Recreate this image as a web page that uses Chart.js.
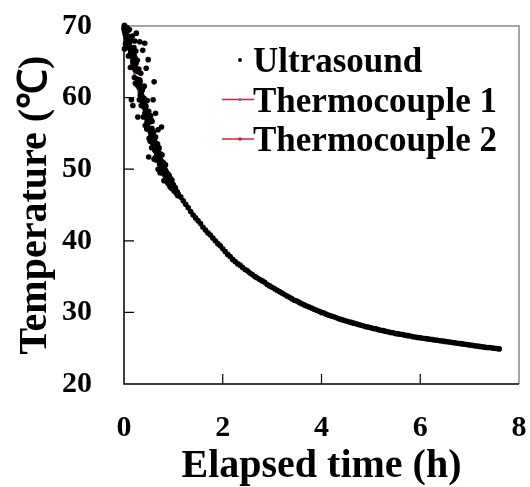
<!DOCTYPE html>
<html>
<head>
<meta charset="utf-8">
<title>Temperature vs elapsed time</title>
<script src="https://cdn.jsdelivr.net/npm/chart.js@4.4.1/dist/chart.umd.min.js"></script>
<style>
  html, body { margin: 0; padding: 0; background: #fff; }
  #wrap { width: 530px; height: 487px; }
</style>
</head>
<body>
<div id="wrap"><canvas id="tempChart" width="530" height="487"></canvas></div>
<script>
// values
const seriesNames = ["Ultrasound", "Thermocouple 1", "Thermocouple 2"];
const xTicks = [0, 2, 4, 6, 8];
const yTicks = [20, 30, 40, 50, 60, 70];

// ultrasound: noisy early part (t in h, T in degC)
const usEarly = [
  [0.00,69.6],[0.01,70.1],[0.02,69.2],[0.03,68.9],[0.04,69.6],[0.05,68.4],[0.06,69.8],[0.07,67.9],[0.08,69.4],[0.09,65.8],
  [0.10,68.3],[0.11,69.5],[0.12,65.9],[0.13,64.2],[0.14,68.1],[0.15,66.4],[0.16,64.3],[0.17,68.6],[0.18,65.0],[0.19,66.8],
  [0.20,67.0],[0.21,62.8],[0.22,65.6],[0.23,62.0],[0.24,66.5],[0.25,63.9],[0.26,61.8],[0.27,65.2],[0.28,62.1],[0.29,63.7],
  [0.30,64.0],[0.31,59.7],[0.32,62.4],[0.33,60.3],[0.34,63.4],[0.35,58.9],[0.36,61.0],[0.37,59.5],[0.38,61.3],[0.39,57.3],
  [0.40,59.8],[0.41,61.6],[0.42,57.4],[0.43,56.1],[0.44,59.5],[0.45,57.6],[0.46,55.6],[0.47,59.6],[0.48,56.3],[0.49,58.0],
  [0.50,58.1],[0.51,54.3],[0.52,56.6],[0.53,53.9],[0.54,57.5],[0.55,55.0],[0.56,53.0],[0.57,56.7],[0.58,53.7],[0.59,55.1],
  [0.60,55.2],[0.61,51.4],[0.62,53.9],[0.63,51.6],[0.64,54.5],[0.65,51.3],[0.66,53.5],[0.67,52.1],[0.68,53.5],[0.69,50.0],
  [0.70,52.8],[0.71,53.0],[0.72,50.7],[0.73,49.5],[0.74,52.1],[0.75,50.9],[0.76,49.5],[0.77,52.0],[0.78,49.9],[0.79,50.8],
  [0.80,50.9],[0.81,48.4],[0.82,50.1],[0.83,48.5],[0.84,50.6],[0.85,48.6],[0.86,49.5],[0.87,49.0],[0.88,49.4],[0.89,48.0],
  [0.90,49.0],[0.91,49.2],[0.92,48.0],[0.93,47.6],[0.94,48.7],[0.95,48.1],[0.96,47.3],[0.97,48.5],[0.98,47.5],[0.99,47.9],
  [1.00,47.8],[1.01,47.0],[1.02,47.5],[1.03,46.9],[1.04,47.4],[1.05,46.8],[1.06,46.9],[1.07,46.6],[1.08,46.8],[1.09,46.3],
  [1.10,46.5],
  [0.005,69.9],[0.025,68.8],[0.045,69.3],[0.065,67.5],[0.085,68.6],[0.105,66.9],[0.125,67.8],[0.145,65.8],[0.165,66.9],[0.185,64.9],
  [0.205,65.9],[0.225,63.9],[0.245,64.8],[0.265,62.6],[0.285,63.6],[0.305,61.4],[0.325,62.2],[0.345,59.9],[0.365,61.0],[0.385,58.8],
  [0.405,59.9],[0.425,57.8],[0.445,58.8],[0.465,56.5],[0.485,57.7],[0.505,55.6],[0.525,56.8],[0.545,54.6],[0.565,55.7],[0.585,53.6],
  [0.605,54.6],[0.625,52.6],[0.645,53.6],[0.665,52.0],[0.685,52.7],[0.705,51.2],[0.725,52.0],[0.745,50.6],[0.765,51.1],[0.785,49.8],
  [0.805,50.5],[0.825,49.2],[0.845,49.8],[0.865,48.8],[0.885,49.3],[0.905,48.3],[0.925,48.8],[0.945,47.8],[0.965,48.2],[0.985,47.4],
  [0.015,69.4],[0.045,68.7],[0.075,68.3],[0.105,67.3],[0.135,66.9],[0.165,65.8],[0.195,65.5],[0.225,64.3],[0.255,63.9],[0.285,62.5],
  [0.315,61.9],[0.345,60.4],[0.375,59.9],[0.405,58.8],[0.435,58.4],[0.465,57.0],[0.495,56.8],[0.525,55.6],[0.555,55.1],[0.585,54.0],
  [0.615,53.6],[0.645,52.6],[0.675,52.4],[0.705,51.6],[0.735,51.4],[0.765,50.4],[0.795,50.2],[0.825,49.5],[0.855,49.4],[0.885,48.7],
  [0.915,48.6],[0.945,48.0],[0.975,47.9],[1.005,47.3],[1.035,47.2],[1.065,46.6],[1.095,46.5],
  [0.010,69.3],[0.035,69.6],[0.060,68.2],[0.085,68.3],[0.110,68.0],[0.135,66.3],[0.160,66.4],[0.185,65.3],[0.210,65.6],[0.235,64.0],
  [0.260,63.8],[0.285,62.4],[0.310,62.5],[0.335,60.6],[0.360,60.3],[0.385,59.2],[0.410,59.6],[0.435,57.8],[0.460,57.6],[0.485,56.5],
  [0.510,56.9],[0.535,55.2],[0.560,55.0],[0.585,53.9],[0.610,54.2],[0.635,52.8],[0.660,52.8],[0.685,51.8],[0.710,52.3],[0.735,50.9],
  [0.760,50.9],[0.785,49.9],[0.810,50.4],[0.835,49.2],[0.860,49.4],[0.885,48.6],[0.910,49.0],[0.935,48.0],[0.960,48.1],[0.985,47.5]
];

// scattered outliers of the ultrasound cloud
const usOutliers = [
  [0.25,69.0],[0.32,67.8],[0.42,67.6],[0.38,66.6],[0.49,65.3],[0.45,64.1],[0.61,62.2],[0.15,59.7],
  [0.18,58.9],[0.28,57.3],[0.59,59.7],[0.76,55.9],[0.69,55.5],[0.50,51.7],[0.35,61.5],[0.01,66.8],
  [0.03,67.5],[0.55,56.9],[0.64,57.8],[0.22,67.9]
];

// ultrasound: tight later part
const usLate = [
  [1.15,46.1],[1.20,45.6],[1.25,45.1],[1.30,44.6],[1.35,44.1],[1.40,43.6],[1.45,43.2],[1.50,42.8],[1.55,42.4],[1.60,41.9],
  [1.65,41.5],[1.70,41.1],[1.75,40.8],[1.80,40.4],[1.85,40.0],[1.90,39.6],[1.95,39.3],[2.00,38.9],[2.05,38.5],[2.10,38.1],
  [2.15,37.8],[2.20,37.4],[2.25,37.1],[2.30,36.8],[2.35,36.6],[2.40,36.3],[2.45,36.0],[2.50,35.8],[2.55,35.5],[2.60,35.3],
  [2.65,35.0],[2.70,34.8],[2.75,34.6],[2.80,34.4],[2.85,34.2],[2.90,33.9],[2.95,33.7],[3.00,33.5],[3.05,33.3],[3.10,33.1],
  [3.15,32.9],[3.20,32.7],[3.25,32.5],[3.30,32.3],[3.35,32.1],[3.40,31.9],[3.45,31.7],[3.50,31.6],[3.55,31.4],[3.60,31.2],
  [3.65,31.05],[3.70,30.9],[3.75,30.75],[3.80,30.6],[3.85,30.45],[3.90,30.3],[3.95,30.15],[4.00,30.0],[4.05,29.9],[4.10,29.75],
  [4.15,29.6],[4.20,29.5],[4.25,29.4],[4.30,29.25],[4.35,29.1],[4.40,29.0],[4.45,28.9],[4.50,28.8],[4.55,28.7],[4.60,28.6],
  [4.65,28.5],[4.70,28.4],[4.75,28.3],[4.80,28.2],[4.85,28.1],[4.90,28.0],[4.95,27.95],[5.00,27.85],[5.05,27.75],[5.10,27.7],
  [5.15,27.6],[5.20,27.5],[5.25,27.45],[5.30,27.35],[5.35,27.3],[5.40,27.2],[5.45,27.15],[5.50,27.05],[5.55,27.0],[5.60,26.95],
  [5.65,26.9],[5.70,26.8],[5.75,26.75],[5.80,26.7],[5.85,26.6],[5.90,26.55],[5.95,26.5],[6.00,26.45],[6.05,26.4],[6.10,26.35],
  [6.15,26.3],[6.20,26.25],[6.25,26.2],[6.30,26.15],[6.35,26.1],[6.40,26.05],[6.45,26.0],[6.50,25.95],[6.55,25.9],[6.60,25.85],
  [6.65,25.8],[6.70,25.75],[6.75,25.7],[6.80,25.65],[6.85,25.6],[6.90,25.55],[6.95,25.5],[7.00,25.45],[7.05,25.4],[7.10,25.35],
  [7.15,25.3],[7.20,25.25],[7.25,25.2],[7.30,25.15],[7.35,25.1],[7.40,25.1],[7.45,25.05],[7.50,25.0],[7.55,24.95],[7.60,24.9]
];

const tcTime = [0, 0.1, 0.2, 0.3, 0.4, 0.5, 0.6, 0.8, 1.0, 1.2, 1.5, 2.0, 2.5, 3.0, 3.5, 4.0, 4.5, 5.0, 5.5, 6.0, 6.5, 7.0, 7.6];
const tc1Temp = [70.2, 67.1, 63.9, 60.8, 58.2, 55.9, 53.9, 50.6, 47.9, 45.7, 42.8, 38.9, 35.8, 33.4, 31.5, 30.0, 28.9, 27.9, 27.1, 26.5, 25.9, 25.4, 24.9];
const tc2Temp = [70.0, 66.8, 63.5, 60.5, 58.0, 55.7, 53.8, 50.5, 47.8, 45.6, 42.7, 38.8, 35.9, 33.5, 31.6, 30.1, 29.0, 28.0, 27.2, 26.5, 25.9, 25.4, 24.9];

const serif = '"Liberation Serif", "Times New Roman", serif';
const tcRed = "#cc2233";

const toPoints = (pairs) => pairs.map(([x, y]) => ({ x, y }));

// keep the tick labels from pushing the plot area inward
const noLabelPadding = (scale) => {
  scale.paddingTop = 0;
  scale.paddingBottom = 0;
  scale.paddingLeft = 0;
  scale.paddingRight = 0;
};

// frame + inward tick marks
const framePlugin = {
  id: "frame",
  beforeDatasetsDraw(chart) {
    const { ctx, chartArea: a, scales } = chart;
    ctx.save();
    ctx.lineWidth = 1.5;
    ctx.strokeStyle = "#888";
    ctx.beginPath();
    ctx.moveTo(a.left, a.top);
    ctx.lineTo(a.right, a.top);
    ctx.lineTo(a.right, a.bottom);
    ctx.stroke();
    ctx.strokeStyle = "#000";
    ctx.beginPath();
    ctx.moveTo(a.left, a.top);
    ctx.lineTo(a.left, a.bottom);
    ctx.lineTo(a.right, a.bottom);
    ctx.stroke();
    ctx.lineWidth = 1.2;
    ctx.beginPath();
    xTicks.slice(1, -1).forEach((v) => {
      const px = scales.x.getPixelForValue(v);
      ctx.moveTo(px, a.bottom);
      ctx.lineTo(px, a.bottom - 10);
    });
    yTicks.slice(1, -1).forEach((v) => {
      const py = scales.y.getPixelForValue(v);
      ctx.moveTo(a.left, py);
      ctx.lineTo(a.left + 10, py);
    });
    ctx.stroke();
    ctx.restore();
  },
};

// legend inside the plot, top right
const legendPlugin = {
  id: "insideLegend",
  afterDraw(chart) {
    const { ctx, chartArea: a } = chart;
    ctx.save();
    ctx.font = "bold 35px " + serif;
    ctx.textBaseline = "alphabetic";
    ctx.textAlign = "left";
    const textX = a.left + 129;
    const symX = a.left + 116;
    seriesNames.forEach((name, i) => {
      const cy = a.top + 34 + i * 39.5;
      if (i === 0) {
        ctx.fillStyle = "#000";
        ctx.beginPath();
        ctx.arc(symX, cy, 2, 0, Math.PI * 2);
        ctx.fill();
      } else {
        ctx.strokeStyle = tcRed;
        ctx.lineWidth = 1.5;
        ctx.beginPath();
        ctx.moveTo(symX - 18, cy);
        ctx.lineTo(symX + 14, cy);
        ctx.stroke();
        ctx.fillStyle = i === 1 ? "#7080b0" : tcRed;
        ctx.beginPath();
        ctx.arc(symX, cy, 1.8, 0, Math.PI * 2);
        ctx.fill();
      }
      ctx.fillStyle = "#000";
      ctx.fillText(name, textX, cy + 12);
    });
    ctx.restore();
  },
};

const ctx = document.getElementById("tempChart").getContext("2d");
new Chart(ctx, {
  type: "scatter",
  data: {
    datasets: [
      {
        label: seriesNames[0],
        data: toPoints(usEarly.concat(usOutliers, usLate)),
        backgroundColor: "#000",
        borderColor: "#000",
        pointRadius: 2.8,
        pointBorderWidth: 0,
        order: 0,
      },
      {
        label: seriesNames[1],
        data: tcTime.map((t, i) => ({ x: t, y: tc1Temp[i] })),
        showLine: true,
        borderColor: tcRed,
        borderWidth: 1.5,
        pointRadius: 0,
        order: 1,
      },
      {
        label: seriesNames[2],
        data: tcTime.map((t, i) => ({ x: t, y: tc2Temp[i] })),
        showLine: true,
        borderColor: tcRed,
        borderWidth: 1.5,
        pointRadius: 0,
        order: 2,
      },
    ],
  },
  options: {
    responsive: false,
    animation: false,
    clip: 6,
    layout: { padding: { left: 16, top: 26, right: 11, bottom: 0 } },
    plugins: {
      legend: { display: false },
      tooltip: { enabled: false },
    },
    scales: {
      x: {
        type: "linear",
        min: 0,
        max: 8,
        afterFit: (scale) => { scale.height = 103; noLabelPadding(scale); },
        afterBuildTicks: (scale) => { scale.ticks = xTicks.map((v) => ({ value: v })); },
        grid: { display: false, drawTicks: false },
        border: { display: false },
        ticks: { color: "#000", padding: 26, font: { family: serif, size: 30, weight: "bold" } },
        title: {
          display: true,
          text: "Elapsed time (h)",
          color: "#000",
          padding: { top: 0, bottom: 0 },
          font: { family: serif, size: 40, weight: "bold", lineHeight: 1 },
        },
      },
      y: {
        min: 20,
        max: 70,
        afterFit: (scale) => { scale.width = 108; noLabelPadding(scale); },
        afterBuildTicks: (scale) => { scale.ticks = yTicks.map((v) => ({ value: v })); },
        grid: { display: false, drawTicks: false },
        border: { display: false },
        ticks: { color: "#000", padding: 32, font: { family: serif, size: 30, weight: "bold" } },
        title: {
          display: true,
          text: "Temperature (℃)",
          color: "#000",
          padding: { top: 0, bottom: 0 },
          font: { family: serif, size: 40, weight: "bold", lineHeight: 1 },
        },
      },
    },
  },
  plugins: [framePlugin, legendPlugin],
});
</script>
</body>
</html>
